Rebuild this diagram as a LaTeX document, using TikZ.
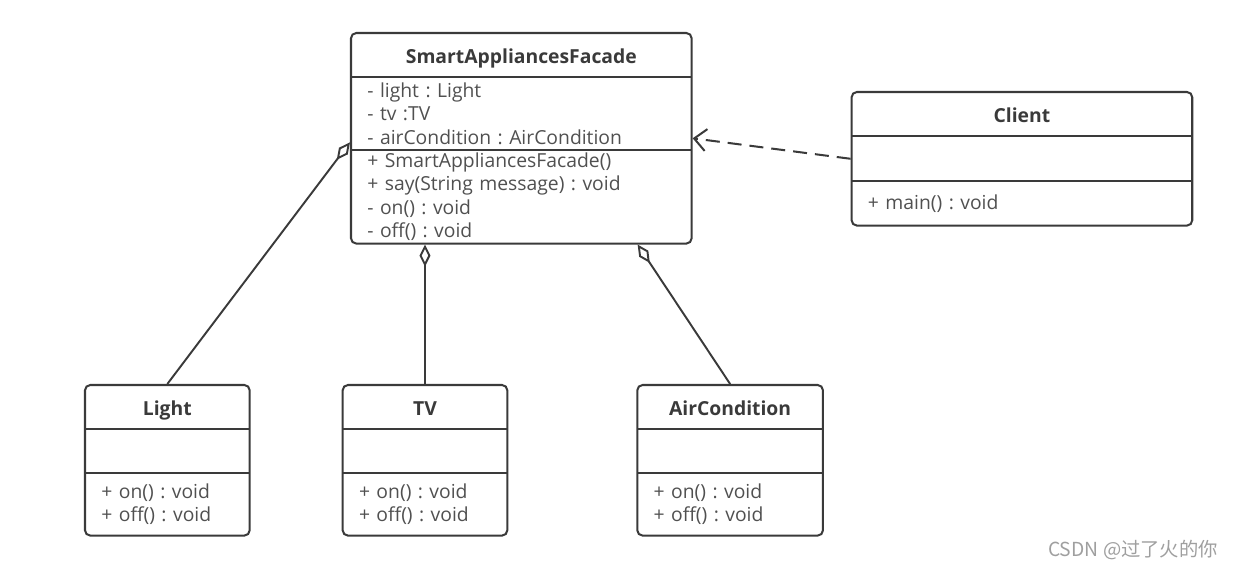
\documentclass[tikz,border=0pt]{standalone}
\usepackage{fontspec}
\setmainfont{Open Sans}
\newfontfamily\cjkfont{Noto Sans CJK SC}
\usetikzlibrary{positioning, fit, arrows.meta}
\frenchspacing

\definecolor{ink}{HTML}{3A3A3A}
\definecolor{memtext}{HTML}{505050}

\begin{document}
\begin{tikzpicture}[
    x=0.02cm, y=-0.02cm,
    font=\fontsize{11}{13.4}\selectfont,
    head/.style={
      minimum width=#1,
      minimum height=0.87cm,
      text height=11pt,
      text depth=1pt,
      inner sep=0pt,
      font=\fontsize{11}{13.4}\selectfont\bfseries,
      text=ink
    },
    members/.style={
      text width={#1-0.64cm},
      inner xsep=0.32cm,
      inner ysep=0pt,
      align=left,
      text=memtext
    },
    classbox/.style={
      draw=ink,
      line width=1.15pt,
      rounded corners=3pt,
      inner sep=0pt,
      fit=#1
    },
    rule/.style={draw=ink, line width=1.15pt},
    aggr/.style={
      draw=ink,
      line width=1.1pt,
      arrows={Diamond[open, length=0.44cm, width=0.22cm]-}
    },
    dep/.style={
      draw=ink,
      line width=1.15pt,
      dash pattern=on 0.28cm off 0.16cm,
      arrows={-Straight Barb[length=0.24cm, width=0.44cm]}
    },
]

\useasboundingbox (0,0) rectangle (1234,569);

\newcommand{\classRules}[1]{%
  \draw[rule] (#1head.south west) -- (#1head.south east);
  \draw[rule] (#1attr.south west) -- (#1attr.south east);
}

% Facade
\node[head=6.8cm, anchor=north west] (facadehead) at (351,33) {SmartAppliancesFacade};
\node[members=6.8cm, minimum height=1.44cm, below=0pt of facadehead] (facadeattr)
  {- light : Light\\- tv :TV\\- airCondition : AirCondition};
\node[members=6.8cm, minimum height=1.86cm, below=0pt of facadeattr] (facadeops)
  {+ SmartAppliancesFacade()\\+ say(String message) : void\\- on() : void\\- off() : void};
\node[classbox={(facadehead)(facadeops)}] (facade) {};
\classRules{facade}

% Client
\node[head=6.8cm, right=3.2cm of facadehead, yshift=-1.18cm] (clienthead) {Client};
\node[members=6.8cm, minimum height=0.88cm, below=0pt of clienthead] (clientattr) {};
\node[members=6.8cm, minimum height=0.88cm, below=0pt of clientattr] (clientops) {+ main() : void};
\node[classbox={(clienthead)(clientops)}] (client) {};
\classRules{client}

% Appliances
\node[head=3.28cm, anchor=north west] (lighthead) at (85,385) {Light};
\node[members=3.28cm, minimum height=0.86cm, below=0pt of lighthead] (lightattr) {};
\node[members=3.28cm, minimum height=1.24cm, below=0pt of lightattr] (lightops)
  {+ on() : void\\+ off() : void};
\node[classbox={(lighthead)(lightops)}] (light) {};
\classRules{light}

\node[head=3.28cm, right=1.86cm of lighthead] (tvhead) {TV};
\node[members=3.28cm, minimum height=0.86cm, below=0pt of tvhead] (tvattr) {};
\node[members=3.28cm, minimum height=1.24cm, below=0pt of tvattr] (tvops)
  {+ on() : void\\+ off() : void};
\node[classbox={(tvhead)(tvops)}] (tv) {};
\classRules{tv}

\node[head=3.7cm, right=2.6cm of tvhead] (airconhead) {AirCondition};
\node[members=3.7cm, minimum height=0.86cm, below=0pt of airconhead] (airconattr) {};
\node[members=3.7cm, minimum height=1.24cm, below=0pt of airconattr] (airconops)
  {+ on() : void\\+ off() : void};
\node[classbox={(airconhead)(airconops)}] (aircon) {};
\classRules{aircon}

% Aggregations
\draw[aggr] ([yshift=-0.08cm]facade.west) -- (light.north);
\draw[aggr] (tv.north |- facade.south) -- (tv.north);
\draw[aggr] ([xshift=-1.1cm]facade.south east) -- (aircon.north);

% Dependency
\draw[dep] (client.west) -- (facade.east);

% Watermark
\node[text=gray!75, font=\cjkfont\fontsize{11}{13}\selectfont] (mark) at (1133,550) {CSDN @过了火的你};

\end{tikzpicture}
\end{document}
